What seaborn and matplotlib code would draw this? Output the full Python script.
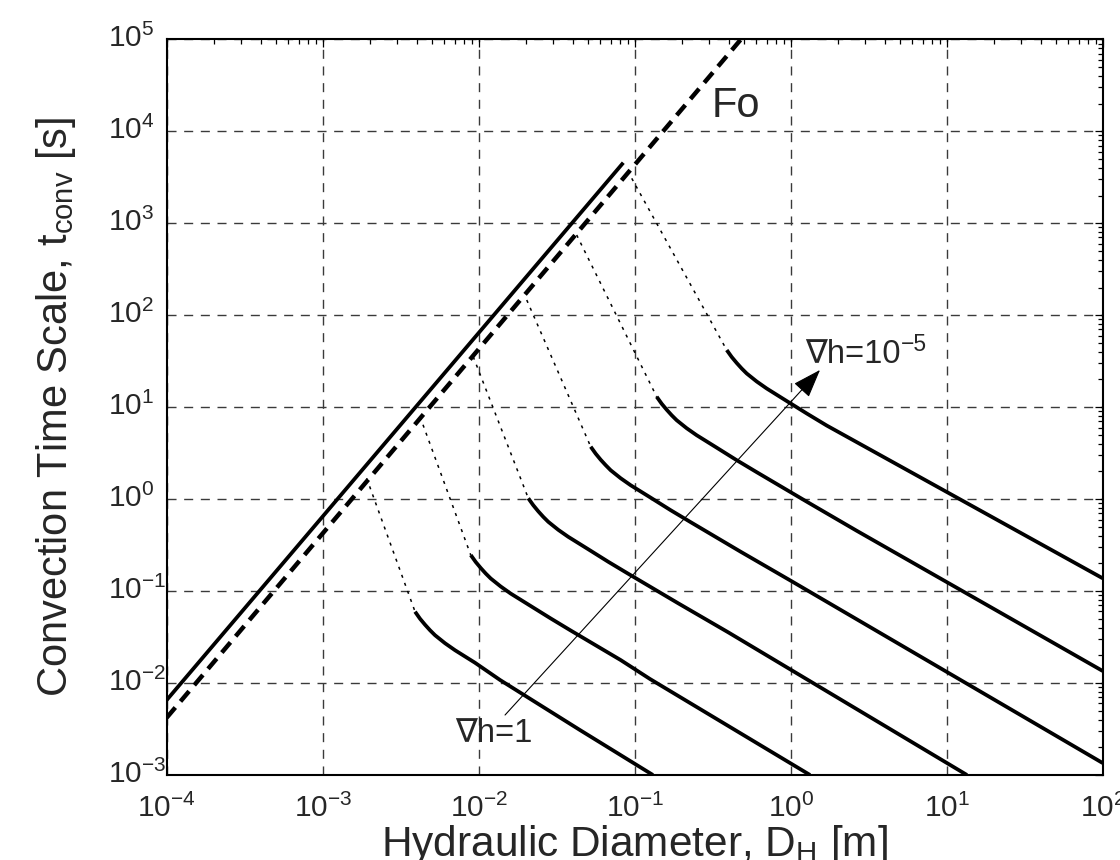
import numpy as np
import matplotlib
matplotlib.use("Agg")
import matplotlib.pyplot as plt
import matplotlib.transforms as mtransforms
import seaborn as sns
from matplotlib.ticker import LogLocator, NullFormatter

# ---------------- data ----------------
# upper envelope (solid) and Fourier line (dashed): t_conv [s] vs D_H [m]
envelope_D = [1e-4, 0.0845]
envelope_t = [6.53e-3, 4550]
fo_D = [1e-4, 0.48]
fo_t = [4.2e-3, 1e5]

# head gradients of the six curves (1 ... 1e-5)
grad_h = [1, 1e-1, 1e-2, 1e-3, 1e-4, 1e-5]

# transition (dotted) start points on the Fo line, log10 values
trans_logD = [-2.718, -2.376, -2.035, -1.692, -1.372, -1.019]
trans_logt = [0.226, 0.896, 1.548, 2.165, 2.872, 3.488]

# solid branches, log10 values
h1_logD = [-2.408, -2.376, -2.344, -2.312, -2.280, -2.216, -2.152, -2.024, -1.863, -1.351, -0.883]
h1_logt = [-1.224, -1.301, -1.366, -1.426, -1.480, -1.567, -1.643, -1.779, -1.967, -2.511, -3.000]
h2_logD = [-2.051, -2.019, -1.987, -1.955, -1.923, -1.859, -1.795, -1.667, -1.538, -1.410, -1.090, -0.902, 0.124]
h2_logt = [-0.608, -0.684, -0.749, -0.809, -0.863, -0.950, -1.027, -1.162, -1.298, -1.429, -1.750, -1.956, -3.000]
h3_logD = [-1.682, -1.650, -1.618, -1.586, -1.554, -1.490, -1.426, -1.297, -1.169, -1.041, -0.721, -0.400, 1.130]
h3_logt = [0.009, -0.067, -0.133, -0.193, -0.247, -0.334, -0.410, -0.546, -0.682, -0.812, -1.133, -1.449, -3.000]
h4_logD = [-1.282, -1.250, -1.218, -1.186, -1.154, -1.090, -1.026, -0.897, -0.769, -0.641, -0.321, 0.000, 2.000]
h4_logt = [0.570, 0.494, 0.428, 0.369, 0.314, 0.227, 0.151, 0.015, -0.121, -0.251, -0.572, -0.887, -2.870]
h5_logD = [-0.859, -0.827, -0.795, -0.763, -0.731, -0.667, -0.603, -0.474, -0.346, -0.218, 0.103, 0.423, 2.000]
h5_logt = [1.113, 1.037, 0.972, 0.912, 0.858, 0.771, 0.695, 0.559, 0.423, 0.293, -0.028, -0.344, -1.869]
h6_logD = [-0.410, -0.378, -0.346, -0.314, -0.282, -0.218, -0.154, -0.026, 0.103, 0.231, 2.000]
h6_logt = [1.621, 1.545, 1.480, 1.420, 1.366, 1.279, 1.203, 1.067, 0.931, 0.800, -0.861]

curves_logD = [h1_logD, h2_logD, h3_logD, h4_logD, h5_logD, h6_logD]
curves_logt = [h1_logt, h2_logt, h3_logt, h4_logt, h5_logt, h6_logt]

x_ticks = [1e-4, 1e-3, 1e-2, 1e-1, 1e0, 1e1, 1e2]
x_tick_labels = [r"$\mathregular{10^{-4}}$", r"$\mathregular{10^{-3}}$",
                 r"$\mathregular{10^{-2}}$", r"$\mathregular{10^{-1}}$",
                 r"$\mathregular{10^{0}}$", r"$\mathregular{10^{1}}$",
                 r"$\mathregular{10^{2}}$"]
y_ticks = [1e-3, 1e-2, 1e-1, 1e0, 1e1, 1e2, 1e3, 1e4, 1e5]
y_tick_labels = [r"$\mathregular{10^{-3}}$", r"$\mathregular{10^{-2}}$",
                 r"$\mathregular{10^{-1}}$", r"$\mathregular{10^{0}}$",
                 r"$\mathregular{10^{1}}$", r"$\mathregular{10^{2}}$",
                 r"$\mathregular{10^{3}}$", r"$\mathregular{10^{4}}$",
                 r"$\mathregular{10^{5}}$"]

# ---------------- style ----------------
sns.set_style("white")
plt.rcParams["font.family"] = ["Liberation Sans", "DejaVu Sans"]
plt.rcParams["mathtext.fontset"] = "custom"
plt.rcParams["mathtext.rm"] = "Liberation Sans"
plt.rcParams["mathtext.it"] = "Liberation Sans:italic"
plt.rcParams["mathtext.bf"] = "Liberation Sans:bold"

fig = plt.figure(figsize=(11.2, 8.6), dpi=100)
ax = fig.add_axes([166.7 / 1120, 85 / 860, 936 / 1120, 735.7 / 860])
ax.set_xscale("log")
ax.set_yscale("log")
ax.set_xlim(1e-4, 1e2)
ax.set_ylim(1e-3, 1e5)

lw_main = 2.7
sns.lineplot(x=envelope_D, y=envelope_t, ax=ax, color="black", linewidth=lw_main,
             estimator=None, sort=False, solid_capstyle="butt")
sns.lineplot(x=fo_D, y=fo_t, ax=ax, color="black", linewidth=3.2,
             linestyle=(0, (3.0, 1.8)), estimator=None, sort=False,
             dash_capstyle="butt")

for i in range(len(grad_h)):
    D = 10.0 ** np.asarray(curves_logD[i])
    t = 10.0 ** np.asarray(curves_logt[i])
    sns.lineplot(x=[10.0 ** trans_logD[i], D[0]], y=[10.0 ** trans_logt[i], t[0]],
                 ax=ax, color="black", linewidth=1.1, linestyle=(0, (2.0, 3.6)),
                 estimator=None, sort=False)
    sns.lineplot(x=D, y=t, ax=ax, color="black", linewidth=lw_main,
                 estimator=None, sort=False, solid_capstyle="butt")

# arrow across the family of curves
ax.annotate("", xy=(1.542, 25.4), xytext=(0.01475, 4.49e-3),
            arrowprops=dict(arrowstyle="-|>,head_length=0.9,head_width=0.32",
                            lw=0.8, color="black", mutation_scale=20,
                            shrinkA=0, shrinkB=0))
ax.text(7.05e-3, 2.30e-3, "∇h=1", fontsize=23.5, ha="left", va="baseline")
t5 = ax.text(1.235, 30.2, "∇h=10", fontsize=23.5, ha="left", va="baseline")
ax.annotate("\u22125", xy=(1, 1), xycoords=t5, xytext=(0.5, 4),
            textcoords="offset points", fontsize=16.5, ha="left", va="top")
ax.text(0.312, 1.44e4, "Fo", fontsize=30, ha="left", va="baseline")

# grid
ax.set_axisbelow(True)
ax.grid(True, which="major", color="#3a3a3a", linewidth=1.0, linestyle=(0, (6.5, 5.5)))
ax.grid(False, which="minor")

# ticks
ax.set_xticks(x_ticks)
ax.set_xticklabels(x_tick_labels, fontsize=21.5)
ax.set_yticks(y_ticks)
ax.set_yticklabels(y_tick_labels, fontsize=21.5, ha="left")
ax.xaxis.set_minor_locator(LogLocator(base=10, subs=np.arange(2, 10), numticks=100))
ax.yaxis.set_minor_locator(LogLocator(base=10, subs=np.arange(2, 10), numticks=100))
ax.xaxis.set_minor_formatter(NullFormatter())
ax.yaxis.set_minor_formatter(NullFormatter())
ax.tick_params(which="both", direction="in", top=True, right=True,
               color="black", width=0.9)
ax.tick_params(which="major", length=6)
ax.tick_params(which="minor", length=3.5)
ax.tick_params(axis="x", which="major", pad=13.5)
ax.tick_params(axis="y", which="major", pad=42)

# lift y tick labels so the "10" sits centred on the tick
lift = mtransforms.ScaledTranslation(0, 4 / 100, fig.dpi_scale_trans)
for lab in ax.get_yticklabels():
    lab.set_transform(lab.get_transform() + lift)

for sp in ax.spines.values():
    sp.set_linewidth(1.5)
    sp.set_color("black")

ax.set_ylabel(r"Convection Time Scale, t$_{\mathregular{conv}}$ [s]", fontsize=30, labelpad=22)
ax.set_xlabel(r"Hydraulic Diameter, D$_{\mathregular{H}}$ [m]", fontsize=30.5, labelpad=0)

fig.savefig("out.png", dpi=100)
